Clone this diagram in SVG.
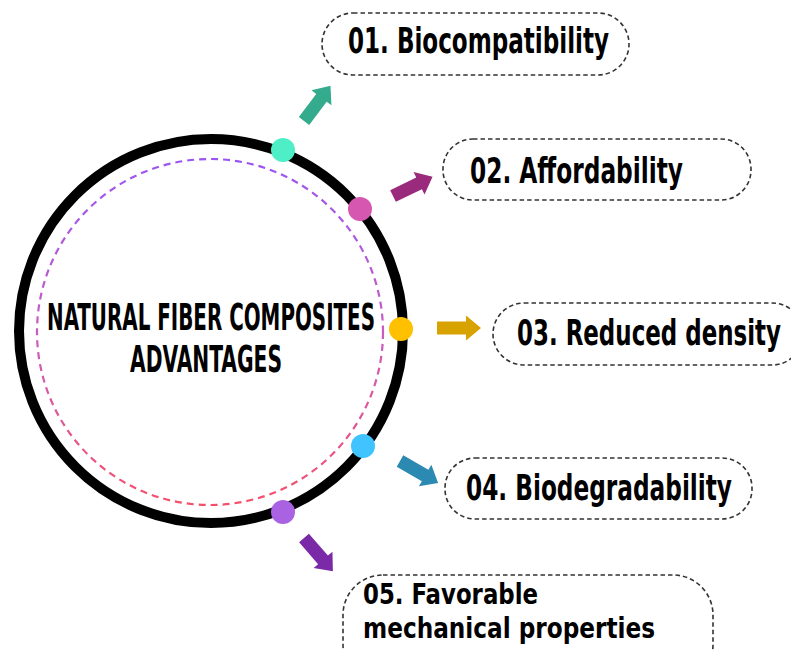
<svg xmlns="http://www.w3.org/2000/svg" width="791" height="650" viewBox="0 0 791 650">
<style>
.box{fill:#fff;stroke:#333;stroke-width:1.6;stroke-dasharray:4.5 3}
.lbl{font-family:"Liberation Sans Narrow","DejaVu Sans Condensed","Liberation Sans",sans-serif;font-stretch:condensed;font-weight:bold;font-size:26px;fill:#000}
.sm{font-size:24px}
.ctr{font-family:"Liberation Sans Narrow","DejaVu Sans Condensed","Liberation Sans",sans-serif;font-stretch:condensed;font-weight:bold;font-size:22px;fill:#000}
</style>
<defs>
<linearGradient id="dg" x1="0" y1="0" x2="0" y2="1">
<stop offset="0" stop-color="#9a55f2"/>
<stop offset="0.5" stop-color="#c95cc2"/>
<stop offset="1" stop-color="#f5506a"/>
</linearGradient>
<path id="arr" d="M0,-6.5 H29 V-12.5 L44,0 L29,12.5 V6.5 H0 Z"/>
</defs>
<rect width="791" height="650" fill="#fff"/>
<g id="hub">
<circle cx="211" cy="331" r="192" fill="#fff" stroke="#000" stroke-width="10"/>
<circle cx="210" cy="332" r="173" fill="none" stroke="url(#dg)" stroke-width="2.2" stroke-dasharray="7 5"/>
<text class="ctr" transform="translate(211,330) scale(1,1.7)" text-anchor="middle" textLength="328" lengthAdjust="spacingAndGlyphs">NATURAL FIBER COMPOSITES</text>
<text class="ctr" transform="translate(206,372) scale(1,1.7)" text-anchor="middle" textLength="152" lengthAdjust="spacingAndGlyphs">ADVANTAGES</text>
<circle cx="283" cy="150" r="12" fill="#4eefc6"/>
<circle cx="360" cy="209" r="12" fill="#d557b0"/>
<circle cx="401" cy="329" r="12" fill="#ffc000"/>
<circle cx="363" cy="446" r="12" fill="#3fc4ff"/>
<circle cx="283" cy="512" r="12" fill="#a862e2"/>
</g>
<g id="connectors">
<use href="#arr" fill="#35ab8e" transform="translate(304,121) rotate(-53)"/>
<use href="#arr" fill="#9a2b7c" transform="translate(393,196) rotate(-26)"/>
<use href="#arr" fill="#d8a200" transform="translate(437,328)"/>
<use href="#arr" fill="#2b89b2" transform="translate(400,461) rotate(30)"/>
<use href="#arr" fill="#7a2aa6" transform="translate(304,538) rotate(49)"/>
</g>
<g id="n1">
<rect class="box" x="322" y="13" width="307" height="62" rx="31"/>
<text class="lbl" transform="translate(348,53) scale(1,1.37)" textLength="261" lengthAdjust="spacingAndGlyphs">01. Biocompatibility</text>
</g>
<g id="n2">
<rect class="box" x="443" y="139" width="308" height="61" rx="30"/>
<text class="lbl" transform="translate(470,183) scale(1,1.37)" textLength="213" lengthAdjust="spacingAndGlyphs">02. Affordability</text>
</g>
<g id="n3">
<rect class="box" x="493" y="303" width="310" height="62" rx="31"/>
<text class="lbl" transform="translate(517,345) scale(1,1.37)" textLength="264" lengthAdjust="spacingAndGlyphs">03. Reduced density</text>
</g>
<g id="n4">
<rect class="box" x="445" y="458" width="307" height="61" rx="30"/>
<text class="lbl" transform="translate(466,500) scale(1,1.37)" textLength="266" lengthAdjust="spacingAndGlyphs">04. Biodegradability</text>
</g>
<g id="n5">
<rect class="box" x="343" y="575" width="370" height="110" rx="40"/>
<text class="lbl sm" transform="translate(363,604) scale(1,1.2)" textLength="175" lengthAdjust="spacingAndGlyphs">05. Favorable</text>
<text class="lbl sm" transform="translate(363,638) scale(1,1.2)" textLength="292" lengthAdjust="spacingAndGlyphs">mechanical properties</text>
</g>
</svg>
